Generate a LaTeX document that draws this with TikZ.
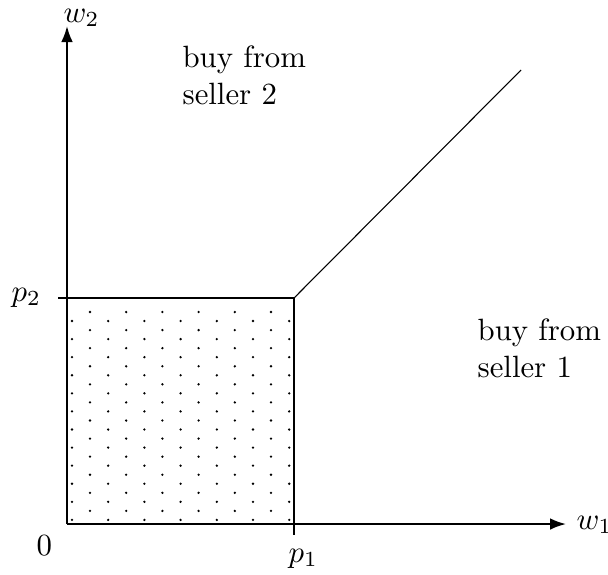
\documentclass[tikz,border=0pt]{standalone}
\usetikzlibrary{arrows.meta}
\begin{document}
\begin{tikzpicture}[x=0.3247pt,y=-0.3247pt,
  axis/.style={line width=0.65pt,-{Latex[length=5.2pt,width=3.8pt]}},
  edge/.style={line width=0.35pt},
  region/.style={inner sep=0pt,anchor=north west,align=left},
  lbl/.style={inner sep=0pt,anchor=base west},
  dot/.style={fill=black}]
\useasboundingbox (0,0) rectangle (608,574);
\coordinate (O) at (67,524);
\coordinate (Ytop) at (67,26);
\coordinate (Xend) at (566,524);
\coordinate (P1) at (294,524);
\coordinate (P2) at (67,298);
\coordinate (C) at (294,298);
\coordinate (D) at (521,70);
\coordinate (P1t) at (294,535);
\coordinate (P2t) at (58,298);
% dots
\foreach \j in {0,...,11}{
  \foreach \k in {0,...,5}{
    \fill[dot] ({90+36.2*\k},{312+18.08*\j}) circle (0.42pt);
  }
  \foreach \k in {0,...,6}{
    \fill[dot] ({72+36.2*\k},{321+18.08*\j}) circle (0.42pt);
  }
}
% box and diagonal
\draw[edge] (P2t) -- (C) -- (P1t);
\draw[edge] (C) -- (D);
% axes
\draw[axis] (O) -- (Ytop);
\draw[axis] (O) -- (Xend);
% labels
\node[lbl] (w2) at (63,22) {$w_2$};
\node[lbl] (w1) at (576,529) {$w_1$};
\node[lbl] (zero) at (36,555) {$0$};
\node[lbl] (p1) at (288,562) {$p_1$};
\node[lbl] (p2) at (11,301) {$p_2$};
\node[region] (s2) at (182,45) {buy from\\seller 2};
\node[region] (s1) at (477,318) {buy from\\seller 1};
\end{tikzpicture}
\end{document}
